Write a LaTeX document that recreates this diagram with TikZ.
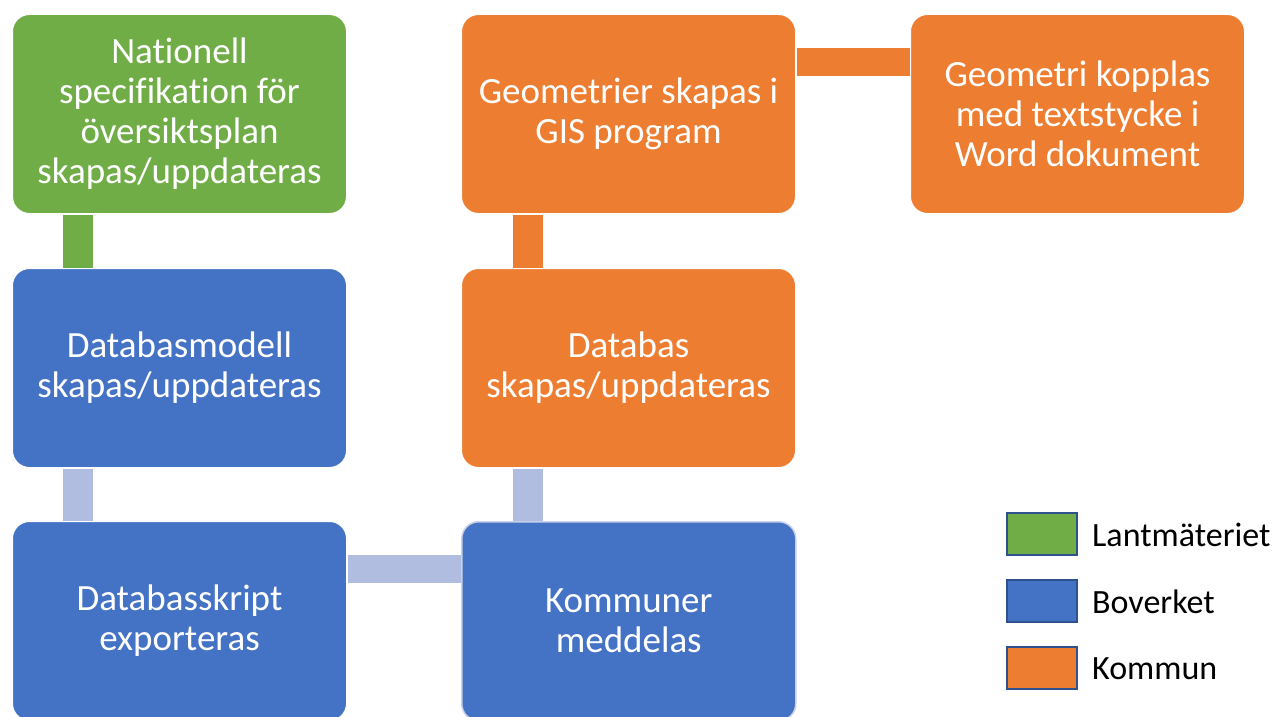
\documentclass[tikz,border=0pt]{standalone}
\usepackage{fontspec}
\setmainfont{Carlito}[Ligatures=NoCommon]
\definecolor{cgreen}{HTML}{70AD47}
\definecolor{cblue}{HTML}{4472C4}
\definecolor{corange}{HTML}{ED7D31}
\definecolor{clight}{HTML}{B0BDE0}
\definecolor{cedge}{HTML}{2F528F}
\tikzset{
  box/.style={anchor=north west, minimum width=334pt, minimum height=199pt, inner sep=0pt,
    align=center, rounded corners=17pt, draw=white, line width=1pt,
    text=white, font=\fontsize{37pt}{40pt}\selectfont},
  conn/.style={line width=30pt},
  legbox/.style={anchor=north west, minimum width=70pt, minimum height=42pt, inner sep=0pt,
    draw=cedge, line width=1.5pt},
  legtext/.style={anchor=west, inner sep=0pt, font=\fontsize{34pt}{38pt}\selectfont}
}
\begin{document}
\begin{tikzpicture}
\useasboundingbox (0,0) rectangle (1277pt,-717pt);
% boxes
\node[box, fill=cgreen] (nat) at (12pt,-14pt) {Nationell\\specifikation för\\översiktsplan\\skapas/uppdateras};
\node[box, fill=cblue] (dbm) at (12pt,-268pt) {Databasmodell\\skapas/uppdateras};
\node[box, fill=cblue] (dbs) at (12pt,-521pt) {Databasskript\\exporteras};
\node[box, fill=corange] (geo) at (461pt,-14pt) {Geometrier skapas i\\GIS program};
\node[box, fill=corange] (kop) at (910pt,-14pt) {Geometri kopplas\\med textstycke i\\Word dokument};
\node[box, fill=corange] (db) at (461pt,-268pt) {Databas\\skapas/uppdateras};
\node[box, fill=cblue, draw=clight!70!white, line width=1.5pt] (kom) at (461pt,-521pt) {Kommuner\\meddelas};
% connectors
\draw[conn, cgreen] ([xshift=66pt,yshift=-0.5pt]nat.south west) -- ([xshift=66pt,yshift=0.5pt]dbm.north west);
\draw[conn, clight] ([xshift=66pt,yshift=-0.5pt]dbm.south west) -- ([xshift=66pt,yshift=0.5pt]dbs.north west);
\draw[conn, clight, line width=28pt] ([yshift=-48pt,xshift=0.5pt]dbs.north east) -- ([yshift=-48pt,xshift=-0.5pt]kom.north west);
\draw[conn, clight] ([xshift=67pt,yshift=-0.5pt]db.south west) -- ([xshift=67pt,yshift=0.5pt]kom.north west);
\draw[conn, corange] ([xshift=67pt,yshift=-0.5pt]geo.south west) -- ([xshift=67pt,yshift=0.5pt]db.north west);
\draw[conn, corange, line width=28pt] ([yshift=-48pt,xshift=0.5pt]geo.north east) -- ([yshift=-48pt,xshift=-0.5pt]kop.north west);
% legend
\node[legbox, fill=cgreen] (lg) at (1006pt,-512pt) {};
\node[legbox, fill=cblue] (lb) at (1006pt,-579pt) {};
\node[legbox, fill=corange] (lo) at (1006pt,-646pt) {};
\node[legtext] (tg) at (1092pt,-535pt) {Lantmäteriet};
\node[legtext] (tb) at (1092pt,-602pt) {Boverket};
\node[legtext] (to) at (1092pt,-669pt) {Kommun};
\end{tikzpicture}
\end{document}
